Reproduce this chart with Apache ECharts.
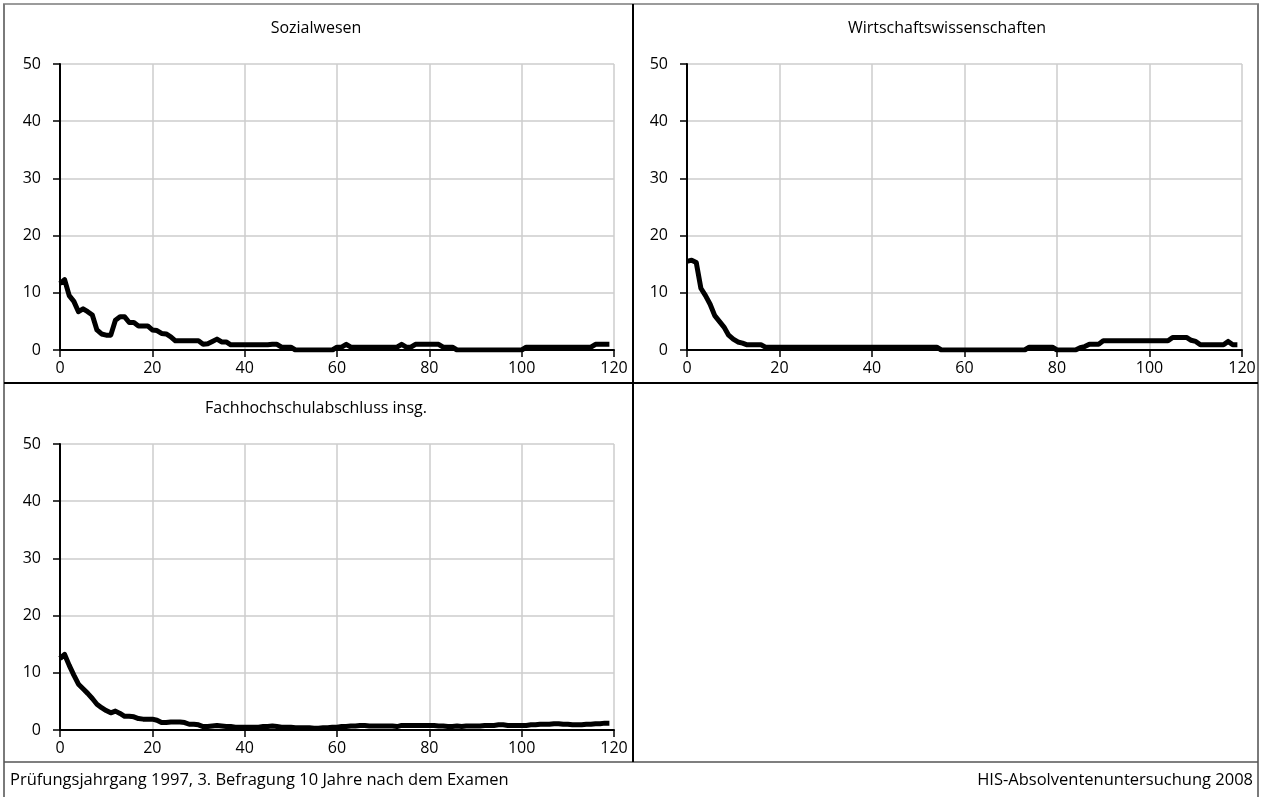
<!DOCTYPE html>
<html>
<head>
<meta charset="utf-8">
<script src="https://cdn.jsdelivr.net/npm/echarts@6/dist/echarts.min.js"></script>
<style>
  html, body { margin: 0; padding: 0; background: #fff; }
  #chart { width: 1264px; height: 797px; }
</style>
</head>
<body>
<div id="chart"></div>
<script>
// Anteil (in %) je Monat nach dem Examen, Monate 0..119
const months = Array.from({ length: 120 }, (_, i) => i);

const panelTitles = ['Sozialwesen', 'Wirtschaftswissenschaften', 'Fachhochschulabschluss insg.'];

const sozialwesen = [
  11.6, 12.3, 9.5, 8.5, 6.7, 7.2, 6.7, 6.1, 3.5, 2.8,
  2.6, 2.6, 5.2, 5.8, 5.8, 4.8, 4.8, 4.2, 4.2, 4.2,
  3.5, 3.4, 2.9, 2.8, 2.3, 1.6, 1.6, 1.6, 1.6, 1.6,
  1.6, 1.0, 1.1, 1.5, 1.9, 1.4, 1.4, 0.9, 0.9, 0.9,
  0.9, 0.9, 0.9, 0.9, 0.9, 0.9, 1.0, 1.0, 0.5, 0.5,
  0.5, 0, 0, 0, 0, 0, 0, 0, 0, 0,
  0.5, 0.5, 1.0, 0.5, 0.5, 0.5, 0.5, 0.5, 0.5, 0.5,
  0.5, 0.5, 0.5, 0.5, 1.0, 0.5, 0.5, 1.0, 1.0, 1.0,
  1.0, 1.0, 1.0, 0.5, 0.5, 0.5, 0, 0, 0, 0,
  0, 0, 0, 0, 0, 0, 0, 0, 0, 0,
  0, 0.5, 0.5, 0.5, 0.5, 0.5, 0.5, 0.5, 0.5, 0.5,
  0.5, 0.5, 0.5, 0.5, 0.5, 0.5, 1.0, 1.0, 1.0, 1.0
];

const wirtschaft = [
  15.5, 15.7, 15.3, 10.8, 9.5, 8.0, 6.0, 5.0, 4.0, 2.6,
  1.9, 1.4, 1.2, 0.9, 0.9, 0.9, 0.9, 0.5, 0.5, 0.5,
  0.5, 0.5, 0.5, 0.5, 0.5, 0.5, 0.5, 0.5, 0.5, 0.5,
  0.5, 0.5, 0.5, 0.5, 0.5, 0.5, 0.5, 0.5, 0.5, 0.5,
  0.5, 0.5, 0.5, 0.5, 0.5, 0.5, 0.5, 0.5, 0.5, 0.5,
  0.5, 0.5, 0.5, 0.5, 0.5, 0, 0, 0, 0, 0,
  0, 0, 0, 0, 0, 0, 0, 0, 0, 0,
  0, 0, 0, 0, 0.5, 0.5, 0.5, 0.5, 0.5, 0.5,
  0, 0, 0, 0, 0, 0.4, 0.6, 1.0, 1.0, 1.0,
  1.6, 1.6, 1.6, 1.6, 1.6, 1.6, 1.6, 1.6, 1.6, 1.6,
  1.6, 1.6, 1.6, 1.6, 1.6, 2.2, 2.2, 2.2, 2.2, 1.7,
  1.5, 0.9, 0.9, 0.9, 0.9, 0.9, 0.9, 1.5, 0.9, 0.9
];

const fhInsgesamt = [
  12.5, 13.2, 11.3, 9.6, 8.0, 7.2, 6.4, 5.5, 4.5, 3.9,
  3.4, 3.0, 3.3, 2.9, 2.4, 2.4, 2.3, 2.0, 1.9, 1.9,
  1.9, 1.7, 1.3, 1.3, 1.4, 1.4, 1.4, 1.3, 1.0, 1.0,
  0.9, 0.6, 0.6, 0.7, 0.8, 0.7, 0.6, 0.6, 0.5, 0.5,
  0.5, 0.5, 0.5, 0.5, 0.6, 0.6, 0.7, 0.6, 0.5, 0.5,
  0.5, 0.4, 0.4, 0.4, 0.4, 0.3, 0.3, 0.4, 0.4, 0.5,
  0.5, 0.6, 0.6, 0.7, 0.7, 0.8, 0.8, 0.7, 0.7, 0.7,
  0.7, 0.7, 0.7, 0.6, 0.8, 0.8, 0.8, 0.8, 0.8, 0.8,
  0.8, 0.8, 0.7, 0.7, 0.6, 0.6, 0.7, 0.6, 0.7, 0.7,
  0.7, 0.7, 0.8, 0.8, 0.8, 0.9, 0.9, 0.8, 0.8, 0.8,
  0.8, 0.8, 0.9, 0.9, 1.0, 1.0, 1.0, 1.1, 1.1, 1.0,
  1.0, 0.9, 0.9, 0.9, 1.0, 1.0, 1.1, 1.1, 1.2, 1.2
];

const xTicks = { min: 0, max: 120, interval: 20 };
const yTicks = { min: 0, max: 50, interval: 10 };

const footerLeft = 'Prüfungsjahrgang 1997, 3. Befragung 10 Jahre nach dem Examen';
const footerRight = 'HIS-Absolventenuntersuchung 2008';

const FONT = '"Open Sans", "Noto Sans", sans-serif';
const FONT_SIZE = 16;
const seriesValues = [sozialwesen, wirtschaft, fhInsgesamt];

const grids = [
  { left: 60, top: 64, width: 554, height: 286 },
  { left: 687, top: 64, width: 555, height: 286 },
  { left: 60, top: 444, width: 554, height: 286 }
];

const axisCommon = {
  axisLine: { show: true, onZero: false, lineStyle: { color: '#000', width: 2 } },
  axisTick: { show: true, inside: false, length: 7, lineStyle: { color: '#000', width: 1.5 } },
  splitLine: { show: true, lineStyle: { color: '#cccccc', width: 1.5 } },
  axisLabel: { color: '#000', fontFamily: FONT, fontSize: FONT_SIZE }
};

const xAxes = grids.map((g, i) => Object.assign({}, axisCommon, {
  type: 'value', gridIndex: i,
  min: xTicks.min, max: xTicks.max, interval: xTicks.interval,
  axisLabel: Object.assign({}, axisCommon.axisLabel, { margin: 10, showMaxLabel: true, showMinLabel: true })
}));

const yAxes = grids.map((g, i) => Object.assign({}, axisCommon, {
  type: 'value', gridIndex: i,
  min: yTicks.min, max: yTicks.max, interval: yTicks.interval,
  axisLabel: Object.assign({}, axisCommon.axisLabel, { margin: 19 })
}));

const series = seriesValues.map((vals, i) => ({
  type: 'line',
  xAxisIndex: i, yAxisIndex: i,
  data: months.map((m, k) => [m, vals[k]]),
  showSymbol: false,
  symbol: 'none',
  z: 5,
  lineStyle: { color: '#000', width: 5, join: 'round', cap: 'butt' },
  animation: false
}));

// Rahmen, Trennlinien, Überschriften und Fußzeile
const gray = '#7a7a7a';
const hline = (x1, x2, y, stroke, w) => ({ type: 'line', silent: true, shape: { x1, y1: y, x2, y2: y }, style: { stroke, lineWidth: w } });
const vline = (x, y1, y2, stroke, w) => ({ type: 'line', silent: true, shape: { x1: x, y1, x2: x, y2 }, style: { stroke, lineWidth: w } });
const text = (str, x, y, align, size) => ({
  type: 'text', silent: true,
  style: {
    text: str, x, y, align, verticalAlign: 'middle',
    fontFamily: FONT, fontSize: size || FONT_SIZE, fill: '#000'
  }
});

const graphic = [
  hline(3, 1259, 4, gray, 1.5),
  vline(4, 4, 797, gray, 2),
  vline(1258, 4, 797, gray, 2),
  hline(4, 1258, 762, '#555', 1.5),
  hline(4, 1258, 383, '#000', 2),
  vline(633, 4, 762, '#000', 2),
  text(panelTitles[0], 316, 28, 'center'),
  text(panelTitles[1], 947, 28, 'center'),
  text(panelTitles[2], 316, 408, 'center'),
  text(footerLeft, 10, 780, 'left', 16.5),
  text(footerRight, 1253, 780, 'right', 16.5)
];

const chart = echarts.init(document.getElementById('chart'), null, { renderer: 'canvas' });
chart.setOption({
  animation: false,
  backgroundColor: '#fff',
  grid: grids,
  xAxis: xAxes,
  yAxis: yAxes,
  series,
  graphic
});
</script>
</body>
</html>
